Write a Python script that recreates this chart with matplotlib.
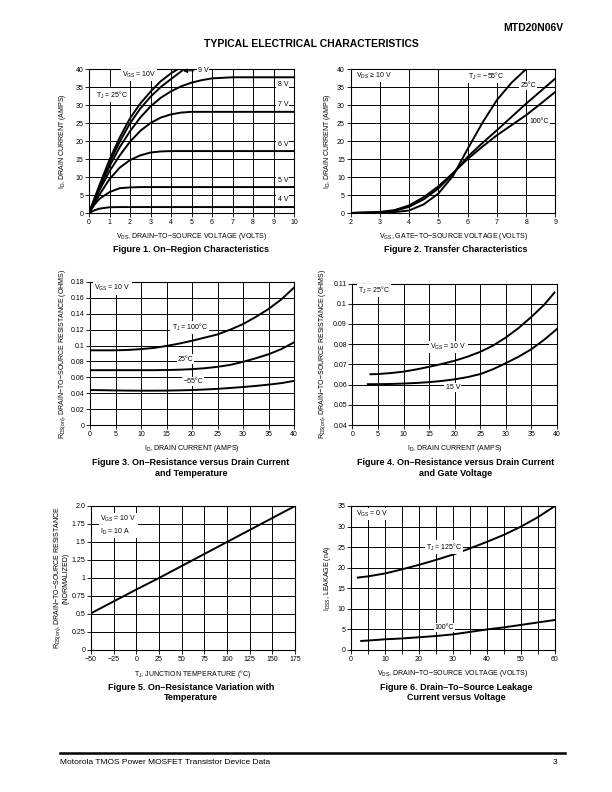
import matplotlib.pyplot as plt
from matplotlib.lines import Line2D

plt.rcParams['font.family'] = ['Liberation Sans', 'DejaVu Sans']
plt.rcParams['mathtext.fontset'] = 'custom'
plt.rcParams['mathtext.rm'] = 'Liberation Sans'
plt.rcParams['mathtext.it'] = 'Liberation Sans'
plt.rcParams['mathtext.bf'] = 'Liberation Sans:bold'
plt.rcParams['axes.linewidth'] = 0.8

# Figure 1 - on-region characteristics
vds_1 = [0, 0.25, 0.5, 1, 1.5, 2, 2.5, 3, 3.5, 4, 4.5, 5, 5.5, 6, 7, 8, 9, 10]
id_8v = [0, 3.4, 6.8, 13.0, 18.3, 22.7, 26.5, 29.6, 32.0, 33.8, 35.2, 36.2, 36.9, 37.4, 37.7, 37.7, 37.7, 37.7]
id_7v = [0, 3.1, 6.2, 11.6, 16.0, 19.8, 22.8, 25.0, 26.5, 27.4, 27.9, 28.1, 28.1, 28.1, 28.1, 28.1, 28.1, 28.1]
id_6v = [0, 2.6, 5.0, 9.4, 12.6, 14.7, 16.0, 16.8, 17.1, 17.2, 17.2, 17.2, 17.2, 17.2, 17.2, 17.2, 17.2, 17.2]
id_5v = [0, 2.2, 3.9, 5.8, 6.9, 7.1, 7.2, 7.2, 7.2, 7.2, 7.2, 7.2, 7.2, 7.2, 7.2, 7.2, 7.2, 7.2]
id_4v = [0, 0.7, 1.2, 1.6, 1.65, 1.65, 1.65, 1.65, 1.65, 1.65, 1.65, 1.65, 1.65, 1.65, 1.65, 1.65, 1.65, 1.65]
vds_9v = [0, 0.25, 0.5, 1, 1.5, 2, 2.5, 3, 3.5, 4, 4.65]
id_9v = [0, 3.6, 7.2, 14.0, 19.8, 24.9, 29.0, 32.3, 35.0, 37.2, 40.0]
vds_10v = [0, 0.25, 0.5, 1, 1.5, 2, 2.5, 3, 3.5, 4, 4.35]
id_10v = [0, 3.8, 7.6, 14.8, 21.0, 26.3, 30.4, 33.7, 36.6, 38.8, 40.0]

# Figure 2 - transfer characteristics
vgs_2 = [2, 2.5, 3, 3.5, 4, 4.5, 5, 5.5, 6, 6.5, 7, 7.5, 8, 8.5, 9]
vgs_m55 = [2, 2.5, 3, 3.5, 4, 4.5, 5, 5.5, 6, 6.5, 7, 7.5, 8]
id_m55 = [0, 0.05, 0.1, 0.25, 0.7, 2.4, 5.4, 10.3, 17.8, 25.0, 31.4, 36.2, 40.0]
id_25c = [0, 0.1, 0.2, 0.6, 1.7, 3.8, 6.8, 10.9, 15.6, 19.4, 23.0, 26.7, 30.4, 33.9, 37.4]
id_100c = [0, 0.15, 0.3, 0.8, 2.1, 4.4, 7.4, 11.1, 15.0, 18.4, 21.6, 24.4, 27.2, 30.4, 33.7]

# Figure 3 - on-resistance vs drain current and temperature
id_3 = [0, 2.5, 5, 7.5, 10, 12.5, 15, 17.5, 20, 22.5, 25, 27.5, 30, 32.5, 35, 37.5, 40]
r_100c = [0.094, 0.094, 0.094, 0.0945, 0.0955, 0.097, 0.0995, 0.1025, 0.106, 0.110, 0.114,
          0.120, 0.127, 0.136, 0.146, 0.158, 0.173]
r_25c = [0.069, 0.069, 0.069, 0.069, 0.069, 0.069, 0.0692, 0.0696, 0.0703, 0.0715, 0.0732,
         0.0757, 0.0795, 0.0840, 0.0890, 0.0955, 0.104]
r_m55 = [0.044, 0.0438, 0.0435, 0.0433, 0.0432, 0.0432, 0.0433, 0.0436, 0.044, 0.0447, 0.0455,
         0.0466, 0.0478, 0.0492, 0.0508, 0.0527, 0.0555]

# Figure 4 - on-resistance vs drain current and gate voltage
id_4a = [3.5, 5, 7.5, 10, 12.5, 15, 17.5, 20, 22.5, 25, 27.5, 30, 32.5, 35, 37.5, 39.5]
r_10v = [0.0651, 0.0652, 0.0657, 0.0664, 0.0675, 0.0688, 0.0702, 0.0718, 0.0738, 0.0762,
         0.0793, 0.0833, 0.0880, 0.0935, 0.0995, 0.1055]
id_4b = [3, 5, 7.5, 10, 12.5, 15, 17.5, 20, 22.5, 25, 27.5, 30, 32.5, 35, 37.5, 40]
r_15v = [0.0602, 0.0602, 0.0603, 0.0605, 0.0608, 0.0612, 0.0618, 0.0626, 0.0637, 0.0652,
         0.0676, 0.0706, 0.0738, 0.0775, 0.0822, 0.0875]

# Figure 5 - normalized on-resistance vs temperature
tj_5 = [-50, 0, 25, 100, 175]
r_norm = [0.51, 0.84, 1.0, 1.5, 2.0]

# Figure 6 - drain-to-source leakage
vds_125 = [2, 5, 10, 15, 20, 25, 30, 35, 40, 45, 50, 55, 60]
idss_125 = [17.6, 17.9, 18.6, 19.6, 20.7, 21.9, 23.2, 24.7, 26.3, 28.0, 30.0, 32.3, 35.0]
vds_100 = [3, 5, 10, 15, 20, 25, 30, 35, 40, 45, 50, 55, 60]
idss_100 = [2.2, 2.3, 2.6, 2.8, 3.1, 3.4, 3.8, 4.4, 5.0, 5.5, 6.1, 6.7, 7.3]

W, H = 612, 792
fig = plt.figure(figsize=(W / 100, H / 100), dpi=100)
FS = 5
LW = 1.4
WB = dict(facecolor='white', edgecolor='none', pad=0.8)


def make_ax(l, r, t, b, xlim, ylim, xt, yt, xtl=None, ytl=None):
    ax = fig.add_axes([l / W, 1 - b / H, (r - l) / W, (b - t) / H])
    ax.set_xlim(*xlim)
    ax.set_ylim(*ylim)
    ax.set_xticks(xt)
    ax.set_yticks(yt)
    if xtl is not None:
        ax.set_xticklabels(xtl)
    if ytl is not None:
        ax.set_yticklabels(ytl)
    ax.grid(True, color='black', linewidth=0.7)
    ax.tick_params(labelsize=FS, length=3, width=0.6, pad=1)
    ax.set_axisbelow(True)
    ax._px = (l, r)
    return ax


def ylab(ax, s, xpix, **kw):
    ax.set_ylabel(s, fontsize=FS, **kw)
    l, r = ax._px
    ax.yaxis.set_label_coords((xpix - l) / (r - l), 0.5)


def lbl(ax, x, y, s, ha='left'):
    ax.text(x, y, s, fontsize=FS, ha=ha, va='center', bbox=WB, zorder=4)


def caption(x, y, lines):
    for i, s in enumerate(lines):
        fig.text(x / W, 1 - (y + i * 11) / H, s, fontsize=6.5, fontweight='bold',
                 ha='center', va='center')


# header
fig.text(563 / W, 1 - 28 / H, 'MTD20N06V', fontsize=7.5, fontweight='heavy', ha='right', va='center')
fig.text(311 / W, 1 - 44 / H, 'TYPICAL ELECTRICAL CHARACTERISTICS', fontsize=7.5,
         fontweight='bold', ha='center', va='center')

# Figure 1
ax1 = make_ax(89, 294, 69, 213, (0, 10), (0, 40), range(0, 11), range(0, 41, 5))
for x, y in [(vds_10v, id_10v), (vds_9v, id_9v), (vds_1, id_8v), (vds_1, id_7v),
             (vds_1, id_6v), (vds_1, id_5v), (vds_1, id_4v)]:
    ax1.plot(x, y, color='black', lw=LW, zorder=3)
lbl(ax1, 1.6, 38.3, r'$\mathregular{V_{GS}}$ = 10V')
lbl(ax1, 0.35, 32.8, r'$\mathregular{T_J}$ = 25°C')
ax1.annotate('9 V', xy=(4.45, 39.5), xytext=(5.3, 39.5), fontsize=FS, va='center',
             bbox=WB, zorder=4,
             arrowprops=dict(arrowstyle='-|>', color='black', lw=0.8, mutation_scale=6))
for s, y in [('8 V', 35.8), ('7 V', 30.2), ('6 V', 19.0), ('5 V', 8.9), ('4 V', 3.7)]:
    lbl(ax1, 9.2, y, s)
ax1.set_xlabel(r'$\mathregular{V_{DS}}$, DRAIN−TO−SOURCE VOLTAGE (VOLTS)', fontsize=FS, labelpad=4)
ylab(ax1, r'$\mathregular{I_D}$, DRAIN CURRENT (AMPS)', 68)
caption(191, 249, ['Figure 1. On–Region Characteristics'])

# Figure 2
ax2 = make_ax(350.5, 555.5, 69, 213, (2, 9), (0, 40), range(2, 10), range(0, 41, 5))
ax2.plot(vgs_m55, id_m55, color='black', lw=LW, zorder=3)
ax2.plot(vgs_2, id_25c, color='black', lw=LW, zorder=3)
ax2.plot(vgs_2, id_100c, color='black', lw=LW, zorder=3)
lbl(ax2, 2.2, 38.0, r'$\mathregular{V_{DS}}$ ≥ 10 V')
lbl(ax2, 6.0, 37.9, r'$\mathregular{T_J}$ = −55°C')
lbl(ax2, 7.8, 35.5, '25°C')
lbl(ax2, 8.1, 25.3, '100°C')
ax2.set_xlabel(r'$\mathregular{V_{GS}}$, GATE−TO−SOURCE VOLTAGE (VOLTS)', fontsize=FS, labelpad=4)
ylab(ax2, r'$\mathregular{I_D}$, DRAIN CURRENT (AMPS)', 333)
caption(456, 249, ['Figure 2. Transfer Characteristics'])

# Figure 3
yt3 = [0, 0.02, 0.04, 0.06, 0.08, 0.1, 0.12, 0.14, 0.16, 0.18]
ax3 = make_ax(90, 294, 282, 425, (0, 40), (0, 0.18), range(0, 41, 5), yt3,
              ytl=['0', '0.02', '0.04', '0.06', '0.08', '0.1', '0.12', '0.14', '0.16', '0.18'])
for y in [r_100c, r_25c, r_m55]:
    ax3.plot(id_3, y, color='black', lw=LW, zorder=3)
lbl(ax3, 0.8, 0.172, r'$\mathregular{V_{GS}}$ = 10 V')
lbl(ax3, 16.0, 0.123, r'$\mathregular{T_J}$ = 100°C')
lbl(ax3, 17.2, 0.083, '25°C')
lbl(ax3, 18.3, 0.055, '−55°C')
ax3.set_xlabel(r'$\mathregular{I_D}$, DRAIN CURRENT (AMPS)', fontsize=FS, labelpad=4)
ylab(ax3, r'$\mathregular{R_{DS(on)}}$, DRAIN−TO−SOURCE RESISTANCE (OHMS)', 68)
caption(191, 463, ['Figure 3. On–Resistance versus Drain Current', 'and Temperature'])

# Figure 4
yt4 = [0.04, 0.05, 0.06, 0.07, 0.08, 0.09, 0.1, 0.11]
ax4 = make_ax(352.5, 557, 283.5, 425, (0, 40), (0.04, 0.11), range(0, 41, 5), yt4,
              ytl=['0.04', '0.05', '0.06', '0.07', '0.08', '0.09', '0.1', '0.11'])
ax4.plot(id_4a, r_10v, color='black', lw=LW, zorder=3)
ax4.plot(id_4b, r_15v, color='black', lw=LW, zorder=3)
lbl(ax4, 1.0, 0.1065, r'$\mathregular{T_J}$ = 25°C')
lbl(ax4, 15.2, 0.0785, r'$\mathregular{V_{GS}}$ = 10 V')
lbl(ax4, 18.2, 0.0587, '15 V')
ax4.set_xlabel(r'$\mathregular{I_D}$, DRAIN CURRENT (AMPS)', fontsize=FS, labelpad=4)
ylab(ax4, r'$\mathregular{R_{DS(on)}}$, DRAIN−TO−SOURCE RESISTANCE (OHMS)', 328)
caption(456, 463, ['Figure 4. On–Resistance versus Drain Current', 'and Gate Voltage'])

# Figure 5
yt5 = [0, 0.25, 0.5, 0.75, 1, 1.25, 1.5, 1.75, 2.0]
ax5 = make_ax(91, 295, 506, 650, (-50, 175), (0, 2.0), range(-50, 176, 25), yt5,
              ytl=['0', '0.25', '0.5', '0.75', '1', '1.25', '1.5', '1.75', '2.0'])
ax5.plot(tj_5, r_norm, color='black', lw=LW, zorder=3)
ax5.text(-40, 1.73, r'$\mathregular{V_{GS}}$ = 10 V' + '\n' + r'$\mathregular{I_D}$ = 10 A',
         fontsize=FS, va='center', ha='left', linespacing=1.3, bbox=WB, zorder=4)
ax5.set_xlabel(r'$\mathregular{T_J}$, JUNCTION TEMPERATURE (°C)', fontsize=FS, labelpad=4)
ylab(ax5, r'$\mathregular{R_{DS(on)}}$, DRAIN−TO−SOURCE RESISTANCE' + '\n(NORMALIZED)', 70,
     linespacing=1.0)
caption(191, 687, ['Figure 5. On–Resistance Variation with', 'Temperature'])

# Figure 6
ax6 = make_ax(351, 555, 506, 650, (0, 60), (0, 35), range(0, 61, 5), range(0, 36, 5),
              xtl=['0', '', '10', '', '20', '', '30', '', '40', '', '50', '', '60'])
ax6.plot(vds_125, idss_125, color='black', lw=LW, zorder=3)
ax6.plot(vds_100, idss_100, color='black', lw=LW, zorder=3)
lbl(ax6, 1.5, 33.0, r'$\mathregular{V_{GS}}$ = 0 V')
lbl(ax6, 22.0, 25.0, r'$\mathregular{T_J}$ = 125°C')
lbl(ax6, 24.6, 5.4, '100°C')
ax6.set_xlabel(r'$\mathregular{V_{DS}}$, DRAIN−TO−SOURCE VOLTAGE (VOLTS)', fontsize=FS, labelpad=4)
ylab(ax6, r'$\mathregular{I_{DSS}}$, LEAKAGE (nA)', 333)
caption(456, 687, ['Figure 6. Drain–To–Source Leakage', 'Current versus Voltage'])

# footer
fig.add_artist(Line2D([60 / W, 565 / W], [1 - 753 / H, 1 - 753 / H], color='black', lw=1.8))
fig.text(60 / W, 1 - 762 / H, 'Motorola TMOS Power MOSFET Transistor Device Data', fontsize=6,
         ha='left', va='center')
fig.text(553 / W, 1 - 762 / H, '3', fontsize=6, ha='left', va='center')

fig.savefig('out.png', dpi=100, facecolor='white')
